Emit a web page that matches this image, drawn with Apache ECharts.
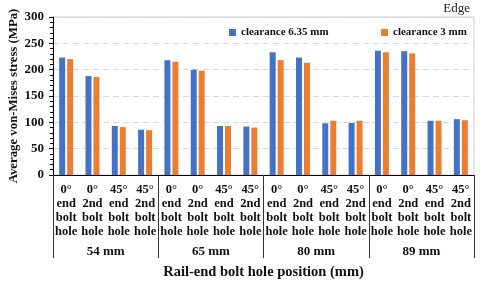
<!DOCTYPE html>
<html><head><meta charset="utf-8">
<script src="https://cdn.jsdelivr.net/npm/echarts@6/dist/echarts.min.js"></script>
<style>html,body{margin:0;padding:0;background:#fff}#c{width:480px;height:286px}</style>
</head><body><div id="c"></div>
<script>
const categories = [
  "0°\nend\nbolt\nhole","0°\n2nd\nbolt\nhole","45°\nend\nbolt\nhole","45°\n2nd\nbolt\nhole",
  "0°\nend\nbolt\nhole","0°\n2nd\nbolt\nhole","45°\nend\nbolt\nhole","45°\n2nd\nbolt\nhole",
  "0°\nend\nbolt\nhole","0°\n2nd\nbolt\nhole","45°\nend\nbolt\nhole","45°\n2nd\nbolt\nhole",
  "0°\nend\nbolt\nhole","0°\n2nd\nbolt\nhole","45°\nend\nbolt\nhole","45°\n2nd\nbolt\nhole"
];
const groups = ["54 mm","65 mm","80 mm","89 mm"];
const clearance635 = [223,188,93,86, 218,200,93,92, 233,223,98,99, 236,235,103,106];
const clearance3   = [220,186,91,85, 215,198,93,90, 218,213,103,103, 233,231,103,104];
const yTicks = [0,50,100,150,200,250,300];

const F = '"Liberation Serif","Times New Roman",serif';
const chart = echarts.init(document.getElementById('c'));
chart.setOption({
  animation:false,
  textStyle:{fontFamily:F},
  title:{text:'Edge',right:10,top:2,padding:0,textStyle:{fontFamily:F,fontWeight:'normal',fontSize:13,color:'#222'}},
  legend:[
    {data:['clearance 6.35 mm'],left:224,top:22,itemWidth:7,itemHeight:7,itemGap:5,icon:'rect',
     textStyle:{fontFamily:F,fontWeight:'bold',fontSize:11,color:'#111'}},
    {data:['clearance 3 mm'],left:376,top:22,itemWidth:7,itemHeight:7,itemGap:5,icon:'rect',
     textStyle:{fontFamily:F,fontWeight:'bold',fontSize:11,color:'#111'}}
  ],
  grid:{left:53,right:6,top:17,bottom:111,show:true,borderColor:'#d0d0d0',borderWidth:1,
        containLabel:false,outerBoundsMode:'none'},
  xAxis:[
    {type:'category',data:categories,position:'bottom',
     axisLine:{lineStyle:{color:'#000',width:1}},axisTick:{show:false},
     axisLabel:{interval:0,margin:8,fontFamily:F,fontWeight:'bold',fontSize:12.5,lineHeight:14,color:'#111'}},
    {type:'category',data:groups,position:'bottom',
     axisLine:{show:false},
     axisTick:{show:true,length:83,lineStyle:{color:'#333',width:1}},
     axisLabel:{interval:0,margin:70,fontFamily:F,fontWeight:'bold',fontSize:13,color:'#111'},
     name:'Rail-end bolt hole position (mm)',nameLocation:'middle',nameGap:90,nameMoveOverlap:false,
     nameTextStyle:{fontFamily:F,fontWeight:'bold',fontSize:14.5,color:'#111'}},
  ],
  yAxis:{type:'value',min:yTicks[0],max:yTicks[yTicks.length-1],interval:50,
    name:'Average von-Mises stress (MPa)',nameLocation:'middle',nameGap:33,nameMoveOverlap:false,
    nameTextStyle:{fontFamily:F,fontWeight:'bold',fontSize:12.8,color:'#111'},
    axisLine:{show:true,lineStyle:{color:'#000'}},
    axisTick:{show:true,length:4,lineStyle:{color:'#000'}},
    minorTick:{show:true,splitNumber:5,length:3,lineStyle:{color:'#000'}},
    splitLine:{lineStyle:{color:'#d9d9d9',type:[6,4]}},
    axisLabel:{fontFamily:F,fontWeight:'bold',fontSize:13,color:'#111',margin:9}},
  series:[
    {name:'clearance 6.35 mm',type:'bar',data:clearance635,barWidth:6,barGap:'33%',
     itemStyle:{color:'#4472C4'}},
    {name:'clearance 3 mm',type:'bar',data:clearance3,barWidth:6,
     itemStyle:{color:'#ED7D31'}}
  ]
});
</script></body></html>
